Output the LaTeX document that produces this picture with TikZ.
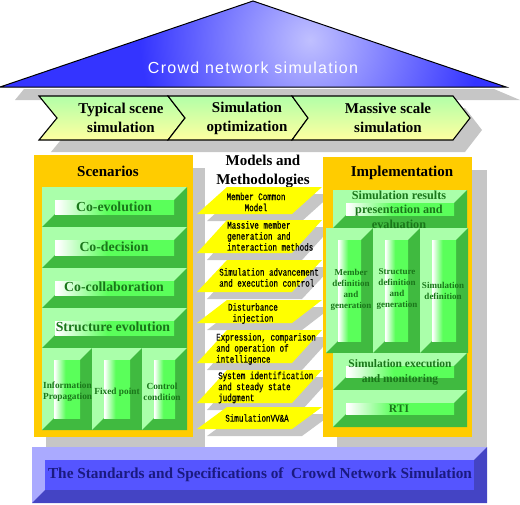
\documentclass[tikz,border=0pt]{standalone}
\usepackage{fontspec}
\setmainfont{Liberation Serif}
\newfontfamily\roofont[LetterSpace=8]{Liberation Sans}
\newfontfamily\monofnt[FakeStretch=0.74,FakeBold=0.6]{Liberation Mono}
\definecolor{shgray}{HTML}{C6C6C6}
\definecolor{roofblue}{HTML}{3434FF}
\definecolor{roofhi}{HTML}{C0C0FF}
\definecolor{chevtop}{HTML}{B2FFA8}
\definecolor{chevbot}{HTML}{FFFFA0}
\definecolor{orng}{HTML}{FFCC00}
\definecolor{glight}{HTML}{AAFFAA}
\definecolor{gdark}{HTML}{40BA40}
\definecolor{fgreen}{HTML}{5AFF5A}
\definecolor{gtext}{HTML}{1A761A}
\definecolor{yel}{HTML}{FFFF00}
\definecolor{blight}{HTML}{AAAAFF}
\definecolor{bdark}{HTML}{4444C4}
\definecolor{bface}{HTML}{5555FF}
\definecolor{btext}{HTML}{1A1A80}
\pgfdeclarehorizontalshading{btnshade}{100bp}{color(0bp)=(white); color(26bp)=(white); color(47bp)=(fgreen); color(100bp)=(fgreen)}
\tikzset{
  gface/.style={shade, shading=btnshade},
  bfacest/.style={fill=bface},
  chev/.style={draw=black, line width=1.1pt, line join=miter, top color=chevtop, bottom color=chevbot},
  head/.style={inner sep=0pt, align=center, font=\bfseries\fontsize{15}{19}\selectfont},
  glab/.style={inner sep=0pt, align=center, text=gtext, font=\bfseries\fontsize{13.8}{16}\selectfont},
  glabs/.style={inner sep=0pt, align=center, text=gtext, font=\bfseries\fontsize{9.3}{11}\selectfont},
  mtext/.style={inner sep=0pt, font=\monofnt\fontsize{10.2}{11}\selectfont},
}
% bevel: light, dark, face style, x1, y1, x2, y2, d
\newcommand\bev[8]{%
  \fill[#1] (#4,#5) rectangle (#6,#7);
  \fill[#2] (#6,#5) -- (#6,#7) -- (#4,#7) -- (#4+#8,#7-#8) -- (#6-#8,#7-#8) -- (#6-#8,#5+#8) -- cycle;
  \path[#3] (#4+#8,#5+#8) rectangle (#6-#8,#7-#8);
}
\newcommand\para[2]{%
  \fill[shgray] (207,#2+7) -- (302,#2+7) -- (332,#1+7) -- (237,#1+7) -- cycle;
  \fill[yel] (197,#2) -- (292,#2) -- (322,#1) -- (227,#1) -- cycle;
}
\begin{document}
\begin{tikzpicture}[x=1pt,y=-1pt]
\useasboundingbox (0,0) rectangle (520,504);
% roof
\fill[shgray] (24,89) -- (494,89) -- (520,100) -- (15,100) -- cycle;
\begin{scope}
  \clip (0,87) -- (253,1) -- (506,87) -- cycle;
  \fill[roofblue] (0,0) rectangle (520,90);
  \shade[inner color=roofhi, outer color=roofblue] (310,40) circle (170);
\end{scope}
\draw[line width=1pt, line join=miter] (0,87) -- (253,1) -- (506,87) -- cycle;
\node[inner sep=0pt, text=white, font=\roofont\fontsize{16}{16}\selectfont] (rooftext) at (253,68) {Crowd network simulation};
% chevrons
\fill[shgray] (51,108) -- (465,108) -- (482,130) -- (465,152) -- (51,152) -- (69,130) -- cycle;
\draw[chev] (39,96) -- (168,96) -- (185,118) -- (168,140) -- (39,140) -- (57,118) -- cycle;
\draw[chev] (168,96) -- (292,96) -- (308,118) -- (292,140) -- (168,140) -- (185,118) -- cycle;
\draw[chev] (292,96) -- (453,96) -- (470,118) -- (453,140) -- (292,140) -- (308,118) -- cycle;
\node[head] (c1) at (121,118) {Typical scene\\simulation};
\node[head] (c2) at (247,118) {Simulation\\optimization};
\node[head] (c3) at (388,118) {Massive scale\\simulation};
% panel shadows
\fill[shgray] (46,168) rectangle (205,447);
\fill[shgray] (337,170) rectangle (487,447);
% scenarios
\fill[orng] (34,155) rectangle (193,437);
\node[head] (scen) at (108,171) {Scenarios};
\bev{glight}{gdark}{gface}{42}{187}{187}{227}{13}
\bev{glight}{gdark}{gface}{42}{227}{187}{268}{13}
\bev{glight}{gdark}{gface}{42}{268}{187}{308}{13}
\bev{glight}{gdark}{gface}{42}{308}{187}{348}{13}
\bev{glight}{gdark}{gface}{42}{348}{92}{430}{12}
\bev{glight}{gdark}{gface}{92}{348}{142}{430}{12}
\bev{glight}{gdark}{gface}{142}{348}{187}{430}{12}
\node[glab] (s1) at (114,207) {Co-evolution};
\node[glab] (s2) at (114,247) {Co-decision};
\node[glab] (s3) at (114,287) {Co-collaboration};
\node[glab] (s4) at (113,327) {Structure evolution};
\begin{scope}
  \clip (42,348) rectangle (91,430);
  \node[glabs, anchor=west, align=left] (s5) at (43,391.5) {Information\\Propagation};
\end{scope}
\node[glabs] (s6) at (117,392) {Fixed point};
\node[glabs] (s7) at (162,391.5) {Control\\condition};
% models and methodologies
\node[head] (mm) at (263,171.5) {Models and\\Methodologies};
\para{187}{214}
\para{220}{253}
\para{260}{292}
\para{300}{323}
\para{330}{363}
\para{370}{403}
\para{407}{429}
\node[mtext, align=center] (m1) at (256,202) {Member Common\\Model};
\node[mtext, align=left, anchor=west] (m2) at (227,236) {Massive member\\generation and\\interaction methods};
\node[mtext, align=left, anchor=west] (m3) at (219,277.5) {Simulation advancement\\and execution control};
\node[mtext, align=center] (m4) at (253,313.5) {Disturbance\\injection};
\node[mtext, align=left, anchor=west] (m5) at (216,349) {Expression, comparison\\and operation of\\intelligence};
\node[mtext, align=left, anchor=west] (m6) at (218,387.5) {System identification\\and steady state\\judgment};
\node[mtext, align=center] (m7) at (257,418) {SimulationVV\&A};
% implementation
\fill[orng] (323,157) rectangle (472,437);
\node[head] (impl) at (402,173) {Implementation};
\bev{glight}{gdark}{gface}{333}{190}{467}{228}{13}
\bev{glight}{gdark}{gface}{326}{228}{373}{353}{12}
\bev{glight}{gdark}{gface}{373}{228}{420}{353}{12}
\bev{glight}{gdark}{gface}{420}{228}{468}{353}{12}
\bev{glight}{gdark}{gface}{333}{353}{467}{390}{13}
\bev{glight}{gdark}{gface}{333}{390}{467}{427}{13}
\node[inner sep=0pt, align=center, text=gtext, font=\bfseries\fontsize{12.2}{14.5}\selectfont] (i1) at (399,209.5) {Simulation results\\presentation and\\evaluation};
\node[glabs, font=\bfseries\fontsize{9}{11}\selectfont] (i2) at (351,289.5) {Member\\definition\\and\\generation};
\node[glabs, font=\bfseries\fontsize{9}{11}\selectfont] (i3) at (397,289.5) {Structure\\definition\\and\\generation};
\node[glabs, font=\bfseries\fontsize{9}{11}\selectfont] (i4) at (443,290.5) {Simulation\\definition};
\node[inner sep=0pt, align=center, text=gtext, font=\bfseries\fontsize{11.5}{15}\selectfont] (i5) at (400,372.5) {Simulation execution\\and monitoring};
\node[inner sep=0pt, align=center, text=gtext, font=\bfseries\fontsize{11.5}{14}\selectfont] (i6) at (399,409) {RTI};
% standards bar
\bev{blight}{bdark}{bfacest}{32}{447}{487}{503}{13}
\node[inner sep=0pt, text=btext, font=\bfseries\fontsize{15.3}{18}\selectfont] (std) at (260,475) {The Standards and Specifications of\ \ Crowd Network Simulation};
\end{tikzpicture}
\end{document}
